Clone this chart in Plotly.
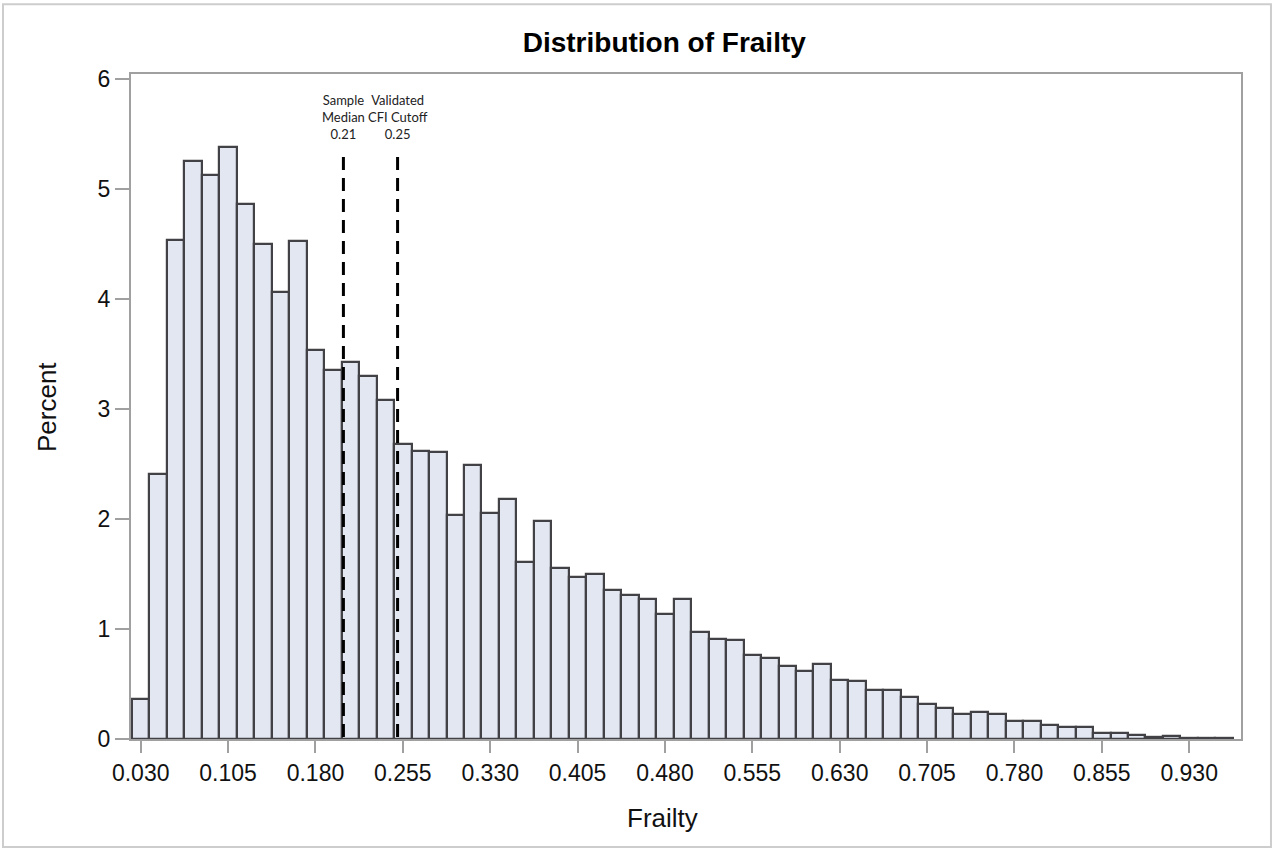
import plotly.graph_objects as go

# Bin centers (Frailty), bin width 0.015
bin_centers = [0.030, 0.045, 0.060, 0.075, 0.090, 0.105, 0.120, 0.135, 0.150, 0.165,
               0.180, 0.195, 0.210, 0.225, 0.240, 0.255, 0.270, 0.285, 0.300, 0.315,
               0.330, 0.345, 0.360, 0.375, 0.390, 0.405, 0.420, 0.435, 0.450, 0.465,
               0.480, 0.495, 0.510, 0.525, 0.540, 0.555, 0.570, 0.585, 0.600, 0.615,
               0.630, 0.645, 0.660, 0.675, 0.690, 0.705, 0.720, 0.735, 0.750, 0.765,
               0.780, 0.795, 0.810, 0.825, 0.840, 0.855, 0.870, 0.885, 0.900, 0.915,
               0.930, 0.945, 0.960]
percent = [0.36, 2.41, 4.54, 5.25, 5.13, 5.38, 4.86, 4.50, 4.06, 4.53,
           3.54, 3.35, 3.43, 3.30, 3.08, 2.68, 2.62, 2.61, 2.04, 2.49,
           2.05, 2.18, 1.61, 1.98, 1.55, 1.47, 1.50, 1.35, 1.31, 1.27,
           1.14, 1.27, 0.975, 0.905, 0.90, 0.76, 0.735, 0.66, 0.615, 0.685,
           0.54, 0.53, 0.45, 0.445, 0.38, 0.32, 0.285, 0.23, 0.245, 0.227,
           0.166, 0.16, 0.125, 0.106, 0.106, 0.056, 0.055, 0.032, 0.018, 0.027,
           0.012, 0.010, 0.005]
bin_width = 0.015

x_tickvals = [0.030, 0.105, 0.180, 0.255, 0.330, 0.405, 0.480, 0.555, 0.630,
              0.705, 0.780, 0.855, 0.930]
x_ticktext = ["0.030", "0.105", "0.180", "0.255", "0.330", "0.405", "0.480",
              "0.555", "0.630", "0.705", "0.780", "0.855", "0.930"]
y_tickvals = [0, 1, 2, 3, 4, 5, 6]

ref_lines = [0.204, 0.2505]
ref_labels = ["Sample<br>Median<br>0.21", "Validated<br>CFI Cutoff<br>0.25"]
ref_top = 5.29

FONT = "Liberation Sans, Arial, sans-serif"
GRAY = "rgb(160,160,160)"

fig = go.Figure()
fig.add_trace(go.Bar(
    x=bin_centers, y=percent, width=bin_width,
    marker=dict(color="rgb(226,231,242)", line=dict(color="rgb(66,66,70)", width=2.2)),
    showlegend=False, hoverinfo="x+y",
))

for xv in ref_lines:
    fig.add_shape(type="line", xref="x", yref="y", x0=xv, x1=xv, y0=ref_top, y1=0,
                  line=dict(color="black", width=3, dash="13px,8px"))

annotations = []
for xv, lab in zip(ref_lines, ref_labels):
    annotations.append(dict(x=xv, y=5.655, xref="x", yref="y", text=lab, showarrow=False,
                            xanchor="center", yanchor="middle", align="center",
                            font=dict(family="Lato, Noto Sans, sans-serif", size=13, color="#222")))

annotations.append(dict(x=-0.0757, y=0.4992, xref="paper", yref="paper", text="Percent",
                        textangle=-90, showarrow=False, xanchor="center", yanchor="middle",
                        font=dict(family=FONT, size=26, color="#111")))
annotations.append(dict(x=0.4784, y=-0.1188, xref="paper", yref="paper", text="Frailty",
                        showarrow=False, xanchor="center", yanchor="middle",
                        font=dict(family=FONT, size=26, color="#111")))

# outer border of the graph
fig.add_shape(type="rect", xref="paper", yref="paper", x0=-0.1153, x1=1.027,
              y0=-0.1624, y1=1.105, line=dict(color="rgb(205,205,205)", width=2),
              fillcolor="rgba(0,0,0,0)", layer="below")

fig.update_layout(
    width=1275, height=850,
    margin=dict(l=131, r=34, t=74, b=111),
    paper_bgcolor="white", plot_bgcolor="white",
    bargap=0,
    title=dict(text="<b>Distribution of Frailty</b>", x=0.521, y=0.9506,
               xanchor="center", yanchor="middle",
               font=dict(family="Liberation Sans Narrow, Liberation Sans, Arial, sans-serif",
                         size=28, color="#000")),
    annotations=annotations,
    xaxis=dict(range=[0.02167, 0.9745], tickvals=x_tickvals, ticktext=x_ticktext,
               showgrid=False, zeroline=False, showline=True, mirror=True,
               linecolor=GRAY, linewidth=2, ticks="outside", ticklen=12,
               tickcolor=GRAY, tickwidth=2,
               tickfont=dict(family=FONT, size=23, color="#111")),
    yaxis=dict(range=[0, 6.045], tickvals=y_tickvals,
               showgrid=False, zeroline=False, showline=True, mirror=True,
               linecolor=GRAY, linewidth=2, ticks="outside", ticklen=14,
               tickcolor=GRAY, tickwidth=2,
               tickfont=dict(family=FONT, size=23, color="#111")),
)

fig.write_html("out.html")
